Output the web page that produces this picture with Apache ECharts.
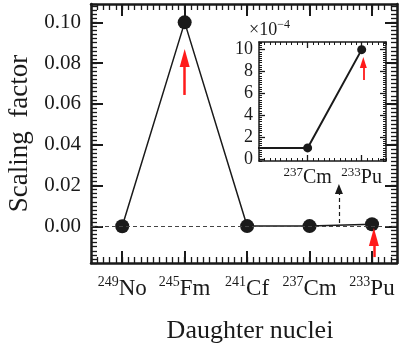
<!DOCTYPE html>
<html>
<head>
<meta charset="utf-8">
<style>
  html, body { margin: 0; padding: 0; background: #fff; }
  #chart { width: 402px; height: 354px; }
</style>
<script src="https://cdn.jsdelivr.net/npm/echarts@6/dist/echarts.min.js"></script>
</head>
<body>
<div id="chart"></div>
<script>
// Datos de la gráfica
const massNumbers = ['249', '245', '241', '237', '233'];
const elements = ['No', 'Fm', 'Cf', 'Cm', 'Pu'];
const scalingValues = [0, 0.1, 0.0001, 0.0001, 0.001];
const yTicks = [0, 0.02, 0.04, 0.06, 0.08, 0.10];
const insetYTicks = [0, 2, 4, 6, 8, 10];
const insetXTicks = [3, 4];
const insetUnit = 1e-4;

// Flechas (coordenadas de datos: x, desde, hasta)
const redArrowMain = [[1, 0.0644, 0.0825], [4.03, -0.0151, -0.0053]];
const dashArrow = [3.47, 0.0016, 0.0183];
const redArrowInset = [4.03, 7.21, 8.82];

const serif = 'Liberation Serif';
const ink = '#1a1a1a';

// Eje con marcas principales
function majorAxis(grid, position, min, max, ticks, st, label) {
    return {
        type: 'value', gridIndex: grid, position: position, min: min, max: max,
        axisLine: { show: true, onZero: false, lineStyle: { color: ink, width: st.lineW } },
        axisTick: { show: true, inside: true, length: st.majorLen, customValues: ticks,
                    lineStyle: { color: ink, width: st.tickW } },
        axisLabel: label ? Object.assign({ customValues: ticks }, label) : { show: false },
        splitLine: { show: false }
    };
}

// Eje solo con marcas menores
function minorAxis(grid, position, min, max, step, st) {
    return {
        type: 'value', gridIndex: grid, position: position, min: min, max: max, interval: step,
        axisLine: { show: false, onZero: false },
        axisTick: { show: true, inside: true, length: st.minorLen,
                    lineStyle: { color: ink, width: st.minorW } },
        axisLabel: { show: false },
        splitLine: { show: false }
    };
}

const mainSt = { lineW: 2.5, majorLen: 12, minorLen: 6, tickW: 2, minorW: 1.3 };
const insetSt = { lineW: 1.5, majorLen: 6, minorLen: 3, tickW: 1.3, minorW: 1 };

const xMin = -0.5, xMax = 4.4, yMin = -0.018, yMax = 0.109;
const ixMin = 2.1, ixMax = 4.45, iyMin = -0.2, iyMax = 10.7;

function nuclideLabel(v) {
    const i = Math.round(v);
    return `{sup|${massNumbers[i]}}{base|${elements[i]}}`;
}

const mainXLabel = {
    margin: 12, fontFamily: serif, color: ink, formatter: nuclideLabel,
    rich: {
        sup: { fontSize: 14, lineHeight: 14, verticalAlign: 'top', fontFamily: serif, color: ink },
        base: { fontSize: 23, lineHeight: 28, fontFamily: serif, color: ink }
    }
};
const insetXLabel = {
    margin: 5, fontFamily: serif, color: ink, formatter: nuclideLabel,
    rich: {
        sup: { fontSize: 13, lineHeight: 13, verticalAlign: 'top', fontFamily: serif, color: ink },
        base: { fontSize: 20, lineHeight: 24, fontFamily: serif, color: ink }
    }
};

const xAxes = [
    Object.assign(majorAxis(0, 'bottom', xMin, xMax, [0, 1, 2, 3, 4], mainSt, mainXLabel), {
        name: 'Daughter nuclei', nameLocation: 'middle', nameGap: 55,
        nameTextStyle: { fontFamily: serif, fontSize: 26, color: ink, padding: [0, 0, 0, 12] }
    }),
    minorAxis(0, 'bottom', xMin, xMax, 0.1, mainSt),
    majorAxis(0, 'top', xMin, xMax, [0, 1, 2, 3, 4], mainSt, null),
    minorAxis(0, 'top', xMin, xMax, 0.1, mainSt),
    majorAxis(1, 'bottom', ixMin, ixMax, insetXTicks, insetSt, insetXLabel),
    minorAxis(1, 'bottom', ixMin, ixMax, 0.1, insetSt),
    majorAxis(1, 'top', ixMin, ixMax, insetXTicks, insetSt, null),
    minorAxis(1, 'top', ixMin, ixMax, 0.1, insetSt)
];

const yAxes = [
    Object.assign(majorAxis(0, 'left', yMin, yMax, yTicks, mainSt, {
        margin: 10, fontFamily: serif, fontSize: 21, color: ink, formatter: v => v.toFixed(2)
    }), {
        name: 'Scaling  factor', nameLocation: 'middle', nameGap: 58,
        nameTextStyle: { fontFamily: serif, fontSize: 27, color: ink }
    }),
    minorAxis(0, 'left', yMin, yMax, 0.002, mainSt),
    majorAxis(0, 'right', yMin, yMax, yTicks, mainSt, null),
    minorAxis(0, 'right', yMin, yMax, 0.002, mainSt),
    majorAxis(1, 'left', iyMin, iyMax, insetYTicks, insetSt, {
        margin: 6, fontFamily: serif, fontSize: 18, color: ink, formatter: v => String(v)
    }),
    minorAxis(1, 'left', iyMin, iyMax, 0.2, insetSt),
    majorAxis(1, 'right', iyMin, iyMax, insetYTicks, insetSt, null),
    minorAxis(1, 'right', iyMin, iyMax, 0.2, insetSt)
];

function arrow(x, from, to, color, width, head, dashed) {
    const ls = { color: color, width: width, type: dashed ? [4, 3] : 'solid' };
    return [
        { coord: [x, from], symbol: 'none', lineStyle: ls },
        { coord: [x, to], symbol: 'triangle', symbolSize: head, lineStyle: ls }
    ];
}

const chart = echarts.init(document.getElementById('chart'));

chart.setOption({
    animation: false,
    backgroundColor: '#fff',
    textStyle: { fontFamily: serif, color: ink },
    title: {
        text: '{a|×10}{b|−4}',
        left: 244, top: 14,
        textStyle: {
            fontFamily: serif, fontWeight: 'normal', color: ink,
            rich: {
                a: { fontFamily: serif, fontWeight: 'normal', fontSize: 18, color: ink, lineHeight: 22 },
                b: { fontFamily: serif, fontWeight: 'normal', fontSize: 12, color: ink, lineHeight: 12, verticalAlign: 'top' }
            }
        }
    },
    grid: [
        { left: 91, top: 4, width: 306, height: 259, containLabel: false, outerBoundsMode: 'none' },
        { left: 259, top: 42, width: 127, height: 119, containLabel: false, outerBoundsMode: 'none',
          show: true, backgroundColor: '#fff', borderWidth: 0 }
    ],
    xAxis: xAxes,
    yAxis: yAxes,
    series: [
        {
            name: 'main', type: 'line', xAxisIndex: 0, yAxisIndex: 0,
            data: scalingValues.map((v, i) => [i, v]),
            symbol: 'circle', symbolSize: 14,
            itemStyle: { color: ink },
            lineStyle: { color: ink, width: 1.5 },
            markLine: {
                silent: true, animation: false,
                symbol: ['none', 'none'],
                label: { show: false },
                emphasis: { disabled: true },
                data: [
                    { yAxis: 0, lineStyle: { color: '#444', width: 1, type: [4, 3] } },
                    arrow(dashArrow[0], dashArrow[1], dashArrow[2], ink, 1.2, [8, 10], true),
                    ...redArrowMain.map(a => arrow(a[0], a[1], a[2], '#ff1a1a', 2.5, [10, 18], false))
                ]
            }
        },
        {
            name: 'inset', type: 'line', xAxisIndex: 4, yAxisIndex: 4,
            data: scalingValues.map((v, i) => [i, v / insetUnit]).slice(2),
            symbol: 'circle', symbolSize: 9, clip: true,
            itemStyle: { color: ink },
            lineStyle: { color: ink, width: 2 },
            markLine: {
                silent: true, animation: false,
                symbol: ['none', 'none'],
                label: { show: false },
                emphasis: { disabled: true },
                data: [
                    arrow(redArrowInset[0], redArrowInset[1], redArrowInset[2], '#ff1a1a', 1.8, [7, 11], false)
                ]
            }
        }
    ]
});
</script>
</body>
</html>
